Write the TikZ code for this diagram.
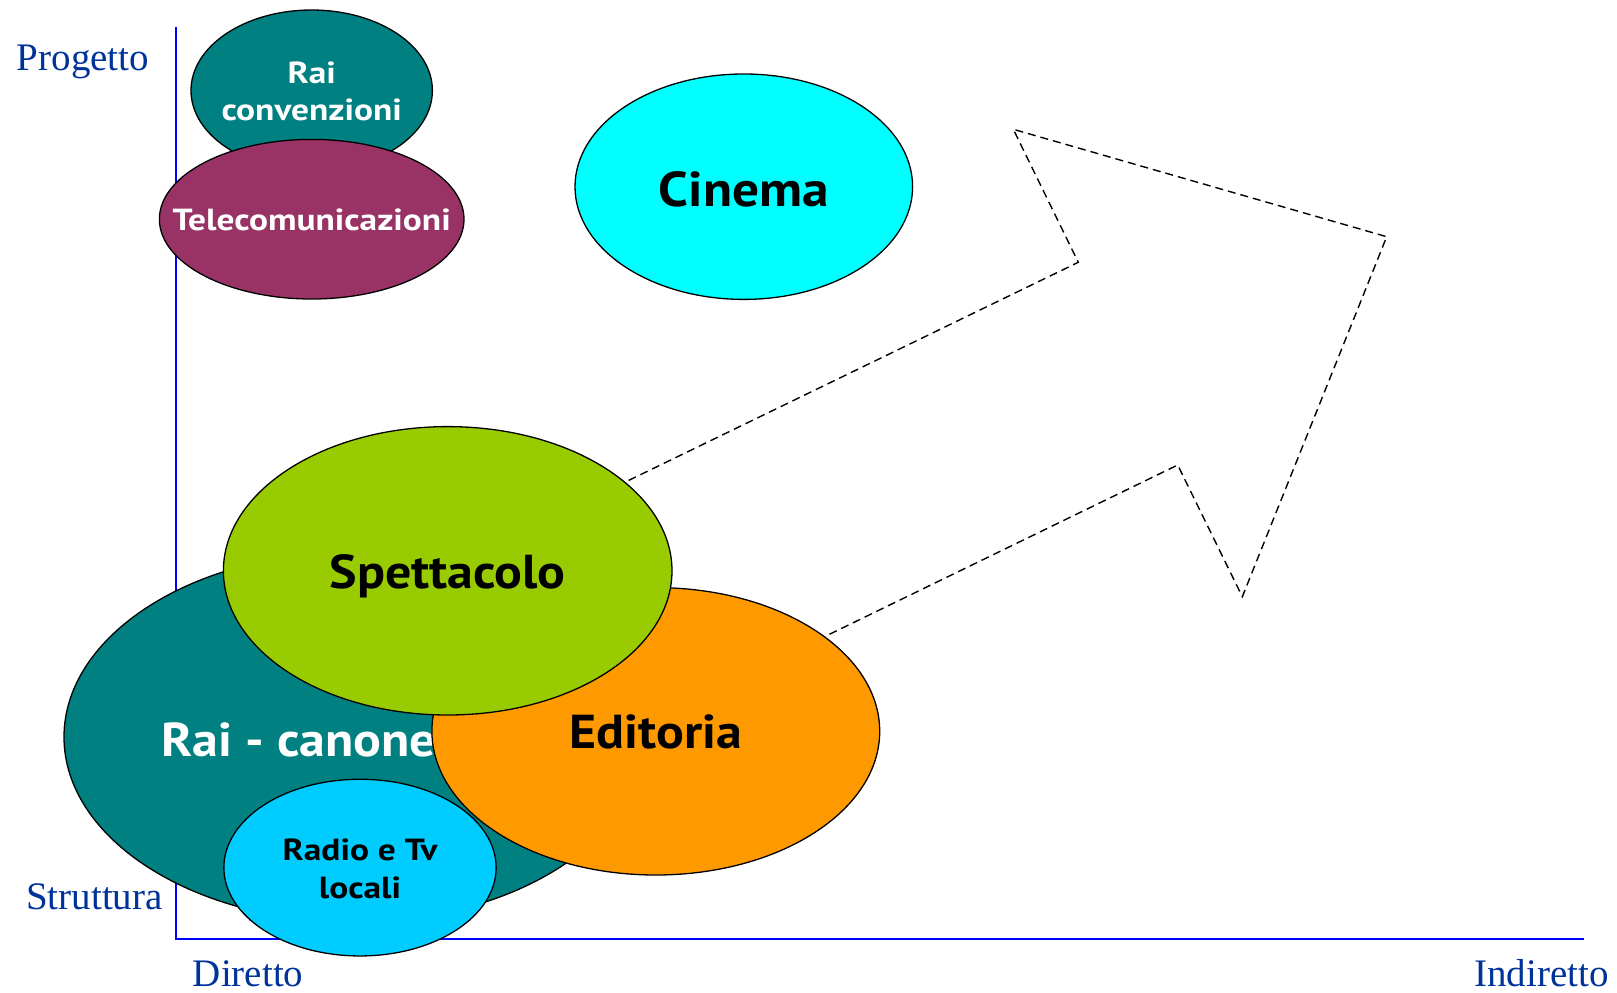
\documentclass[tikz,border=0pt]{standalone}
\usepackage{fontspec}
\setmainfont{Liberation Serif}
\newfontfamily\bigfont{PT Sans}[FakeStretch=1.09]
\newfontfamily\smallfont{PT Sans}[FakeStretch=1.16]
\usetikzlibrary{shapes.geometric}
\definecolor{raiteal}{HTML}{008080}
\definecolor{plum}{HTML}{993366}
\definecolor{cinecyan}{HTML}{00FFFF}
\definecolor{spgreen}{HTML}{99CC00}
\definecolor{edorange}{HTML}{FF9900}
\definecolor{radiosky}{HTML}{00CCFF}
\definecolor{axisblue}{HTML}{0000FF}
\definecolor{labblue}{HTML}{003399}
\begin{document}
\begin{tikzpicture}[x=1pt,y=-1pt,
  blob/.style={ellipse, draw=black, line width=1.3pt, inner sep=0pt},
  axlab/.style={text=labblue, font=\fontsize{39}{44}\selectfont, inner sep=0pt, anchor=base west},
  bigtxt/.style={font=\bigfont\bfseries\fontsize{47.6}{52}\selectfont, inner sep=0pt, anchor=base},
  smalltxt/.style={font=\smallfont\bfseries\fontsize{30.5}{36}\selectfont, inner sep=0pt, anchor=base},
  axisline/.style={draw=axisblue, line width=2pt},
  dasharrow/.style={draw=black, line width=1.4pt, dash pattern=on 8pt off 5pt}]
\useasboundingbox (0,0) rectangle (1617,993);
% axes
\coordinate (ytop) at (176,27);
\coordinate (origin) at (176,939);
\coordinate (xend) at (1584,939);
\draw[axisline] (ytop) -- (origin) -- (xend);
% axis labels
\node[axlab] (progetto) at (16.7,70.7) {Progetto};
\node[axlab] (struttura) at (26,909.3) {Struttura};
\node[axlab] (diretto) at (192.7,986) {Diretto};
\node[axlab] (indiretto) at (1474,986) {Indiretto};
% Rai convenzioni
\node[blob, fill=raiteal, minimum width=241.4pt, minimum height=161pt] (raiconv) at (311.7,90.5) {};
\node[smalltxt, text=white] (raiconvA) at (311.7,83.3) {Rai};
\node[smalltxt, text=white] (raiconvB) at (311.7,120.7) {convenzioni};
% Telecomunicazioni
\node[blob, fill=plum, minimum width=304.6pt, minimum height=159.6pt] (telecom) at (311.7,219.2) {};
\node[smalltxt, text=white] (telecomT) at (311.7,230) {Telecomunicazioni};
% Cinema
\node[blob, fill=cinecyan, minimum width=337.6pt, minimum height=225.4pt] (cinema) at (743.8,186.7) {};
\node[bigtxt, font=\bigfont\bfseries\fontsize{49}{54}\selectfont] (cinemaT) at (743.8,206.7) {Cinema};
% dashed arrow
\coordinate (tailU) at (500,542.8);
\coordinate (notchU) at (1078.3,262.3);
\coordinate (barbU) at (1013.3,129.3);
\coordinate (tip) at (1386.7,236.7);
\coordinate (barbL) at (1242.3,596.7);
\coordinate (notchL) at (1177.7,465);
\coordinate (tailL) at (700,697.2);
\draw[dasharrow] (tailU) -- (notchU) -- (barbU) -- (tip) -- (barbL) -- (notchL) -- (tailL) -- cycle;
% Rai - canone
\node[blob, fill=raiteal, minimum width=580pt, minimum height=370pt] (canone) at (354,737) {};
\node[bigtxt, text=white, anchor=base west] (canoneT) at (161,756.7) {Rai - canone};
% Editoria
\node[blob, fill=edorange, minimum width=447.8pt, minimum height=287.4pt] (editoria) at (655.8,731.3) {};
\node[bigtxt] (editoriaT) at (656,748.3) {Editoria};
% Spettacolo
\node[blob, fill=spgreen, minimum width=448.6pt, minimum height=288.4pt] (spett) at (447.7,570.8) {};
\node[bigtxt] (spettT) at (447.7,588.3) {Spettacolo};
% Radio e Tv locali
\node[blob, fill=radiosky, minimum width=272.3pt, minimum height=176.7pt] (radio) at (360,867.6) {};
\node[smalltxt] (radioA) at (360,860) {Radio e Tv};
\node[smalltxt] (radioB) at (360,898.3) {locali};
\end{tikzpicture}
\end{document}
